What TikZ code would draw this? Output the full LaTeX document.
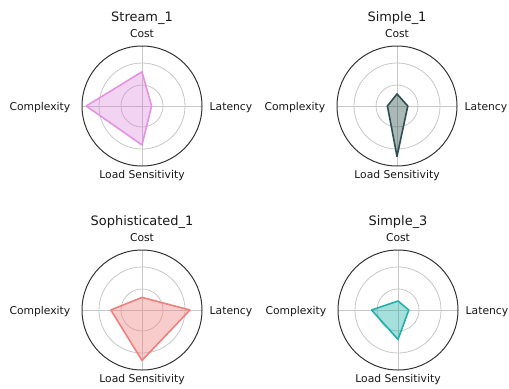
\documentclass[tikz,border=0pt]{standalone}
\usepackage{fontspec}
\setmainfont{DejaVu Sans}
\definecolor{gridgray}{HTML}{C8C8C8}
\definecolor{framegray}{HTML}{333333}
\definecolor{corchid}{HTML}{DA70D6}
\definecolor{cslate}{HTML}{2F4F4F}
\definecolor{ccoral}{HTML}{F08080}
\definecolor{cseagreen}{HTML}{20B2AA}
\tikzset{
  gridline/.style={draw=gridgray, line width=0.8pt},
  frameline/.style={draw=framegray, line width=1pt},
  axislabel/.style={font=\fontsize{10.8}{12}\selectfont, text=black!90, inner sep=0pt},
  paneltitle/.style={font=\fontsize{13}{15}\selectfont, text=black!90, inner sep=0pt, anchor=base},
}
% #1 name prefix, #2 cx, #3 cy, #4 title, #5 edge colour, #6 cost, #7 latency, #8 load, #9 complexity
\newcommand{\radarpanel}[9]{%
  \begin{scope}[shift={(#2,#3)}]
    \draw[gridline] (0,0) circle[radius=21];
    \draw[gridline] (0,0) circle[radius=43];
    \draw[gridline] (-60,0) -- (60,0);
    \draw[gridline] (0,-60) -- (0,60);
    \draw[frameline] (0,0) circle[radius=60];
    \coordinate (#1c) at (0,{-#6*60});
    \coordinate (#1l) at ({#7*60},0);
    \coordinate (#1s) at (0,{#8*60});
    \coordinate (#1x) at ({-#9*60},0);
    \fill[fill=\fillcol, fill opacity=\fillop]
      (#1c) -- (#1l) -- (#1s) -- (#1x) -- cycle;
    \draw[draw=#5, line width=1.6pt, line join=round]
      (#1c) -- (#1l) -- (#1s) -- (#1x) -- cycle;
    \node[paneltitle] (#1title) at (0,-84.5) {#4};
    \node[axislabel, anchor=base] (#1cost) at (0,-69) {Cost};
    \node[axislabel, anchor=base] (#1load) at (0,72.5) {Load Sensitivity};
    \node[axislabel, anchor=base west] (#1lat) at (67.5,4) {Latency};
    \node[axislabel, anchor=base east] (#1cpx) at (-71.5,4) {Complexity};
  \end{scope}}
\begin{document}
\begin{tikzpicture}[x=1bp,y=-1bp]
  \useasboundingbox[fill=white] (0,0) rectangle (509,388);
  \def\fillcol{corchid}\def\fillop{0.3}
  \radarpanel{a}{142}{106}{Stream\_1}{corchid!75!white}{0.57}{0.16}{0.65}{0.93}
  \def\fillcol{cslate}\def\fillop{0.4}
  \radarpanel{b}{397}{106}{Simple\_1}{cslate}{0.2}{0.18}{0.84}{0.16}
  \def\fillcol{ccoral}
  \radarpanel{d}{142}{310}{Sophisticated\_1}{ccoral}{0.21}{0.8}{0.84}{0.52}
  \def\fillcol{cseagreen}
  \radarpanel{e}{398}{310}{Simple\_3}{cseagreen}{0.15}{0.18}{0.49}{0.44}
\end{tikzpicture}
\end{document}
